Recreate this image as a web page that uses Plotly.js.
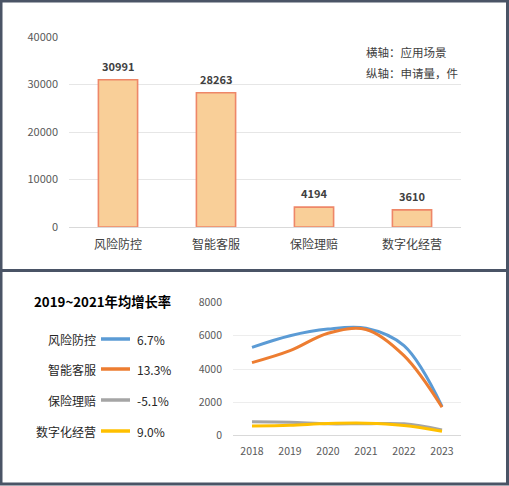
<!DOCTYPE html>
<html>
<head>
<meta charset="utf-8">
<script src="https://cdn.plot.ly/plotly-3.0.1.min.js"></script>
<style>
html,body{margin:0;padding:0;background:#fff;}
#chart{width:509px;height:486px;}
</style>
</head>
<body>
<div id="chart"></div>
<script>
// ---- data ----
const scenarios = ['风险防控', '智能客服', '保险理赔', '数字化经营'];
const applications = [30991, 28263, 4194, 3610];
const years = ['2018', '2019', '2020', '2021', '2022', '2023'];
const riskControl = [5300, 6000, 6400, 6450, 5400, 1750];
const smartService = [4380, 5100, 6150, 6380, 4800, 1700];
const claims = [830, 800, 700, 710, 700, 330];
const digitalOps = [570, 620, 720, 740, 600, 260];
const growthRates = ['6.7%', '13.3%', '-5.1%', '9.0%'];
const barTicks = [0, 10000, 20000, 30000, 40000];
const lineTicks = [0, 2000, 4000, 6000, 8000];

const W = 509, H = 486;
const px = v => v / W;
const py = v => 1 - v / H;
const FONT = 'Noto Sans CJK SC, Liberation Sans, sans-serif';
const lineColors = ['#5B9BD5', '#ED7D31', '#A5A5A5', '#FFC000'];
const lineSeries = [riskControl, smartService, claims, digitalOps];

const traces = [{
  type: 'bar', x: scenarios, y: applications, xaxis: 'x', yaxis: 'y',
  width: 0.4,
  marker: {color: '#F9CF98', line: {color: '#EE8768', width: 1.6}},
  hoverinfo: 'x+y', showlegend: false
}];
lineSeries.forEach((s, i) => {
  traces.push({
    type: 'scatter', mode: 'lines', x: years, y: s, xaxis: 'x2', yaxis: 'y2',
    name: scenarios[i],
    line: {color: lineColors[i], width: 3, shape: 'spline', smoothing: 1},
    showlegend: false
  });
});

const annotations = [];
scenarios.forEach((c, i) => {
  annotations.push({
    xref: 'x', yref: 'y', x: c, y: applications[i], text: String(applications[i]),
    showarrow: false, yanchor: 'bottom', yshift: 4,
    font: {family: FONT, size: 11, color: '#404040', weight: 'bold'}
  });
});
annotations.push({xref: 'paper', yref: 'paper', x: px(364), y: py(52), xanchor: 'left', yanchor: 'middle',
  text: '横轴：应用场景', showarrow: false, font: {family: FONT, size: 11.5, color: '#404040'}});
annotations.push({xref: 'paper', yref: 'paper', x: px(364), y: py(73), xanchor: 'left', yanchor: 'middle',
  text: '纵轴：申请量，件', showarrow: false, font: {family: FONT, size: 11.5, color: '#404040'}});
annotations.push({xref: 'paper', yref: 'paper', x: px(32), y: py(301), xanchor: 'left', yanchor: 'middle',
  text: '<b>2019~2021年均增长率</b>', showarrow: false, font: {family: FONT, size: 13.3, color: '#000'}});

const shapes = [];
const legendY = [339, 369, 400, 431];
scenarios.forEach((c, i) => {
  annotations.push({xref: 'paper', yref: 'paper', x: px(98), y: py(legendY[i]), xanchor: 'right', yanchor: 'middle',
    text: c, showarrow: false, font: {family: FONT, size: 12, color: '#262626'}});
  annotations.push({xref: 'paper', yref: 'paper', x: px(135), y: py(legendY[i]), xanchor: 'left', yanchor: 'middle',
    text: growthRates[i], showarrow: false, font: {family: FONT, size: 12, color: '#262626'}});
  shapes.push({type: 'line', xref: 'paper', yref: 'paper', x0: px(101), x1: px(130),
    y0: py(legendY[i]), y1: py(legendY[i]), line: {color: lineColors[i], width: 3.5}});
});
// frame and divider
const frame = '#4A5466';
shapes.push({type: 'rect', xref: 'paper', yref: 'paper', x0: px(1), x1: px(507.5), y0: py(1), y1: py(484),
  line: {color: frame, width: 3}});
shapes.push({type: 'line', xref: 'paper', yref: 'paper', x0: 0, x1: 1, y0: py(270.5), y1: py(270.5),
  line: {color: frame, width: 3}});

const layout = {
  width: W, height: H,
  margin: {l: 0, r: 0, t: 0, b: 0},
  paper_bgcolor: '#fff', plot_bgcolor: '#fff',
  font: {family: FONT, color: '#595959'},
  xaxis: {domain: [px(69), px(461)], anchor: 'y', type: 'category', range: [-0.5, 3.5], showgrid: false,
    showline: false, ticks: '', tickfont: {family: FONT, size: 12, color: '#404040'}, ticklabelstandoff: 9},
  yaxis: {domain: [py(227), py(37)], anchor: 'x', range: [0, 40000], tickvals: barTicks, tickformat: 'd',
    showgrid: true, gridcolor: '#E6E6E6', gridwidth: 1, zeroline: true, zerolinecolor: '#D9D9D9', zerolinewidth: 1,
    ticks: '', tickfont: {family: FONT, size: 11, color: '#595959'}, ticklabelstandoff: 10},
  xaxis2: {domain: [px(233), px(461)], anchor: 'y2', type: 'category', range: [-0.5, 5.5], showgrid: false,
    showline: false, ticks: '', tickfont: {family: FONT, size: 10.5, color: '#595959'}, ticklabelstandoff: 8},
  yaxis2: {domain: [py(435.5), py(302.5)], anchor: 'x2', range: [0, 8000], tickvals: lineTicks, tickformat: 'd',
    showgrid: true, gridcolor: '#EDEDED', gridwidth: 1, zeroline: true, zerolinecolor: '#D9D9D9', zerolinewidth: 1,
    ticks: '', tickfont: {family: FONT, size: 10.5, color: '#595959'}, ticklabelstandoff: 10},
  annotations: annotations,
  shapes: shapes
};

Plotly.newPlot('chart', traces, layout, {displayModeBar: false, staticPlot: true});
</script>
</body>
</html>
